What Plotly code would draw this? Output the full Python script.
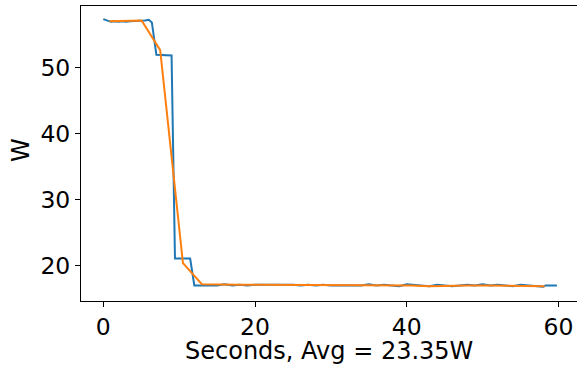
import plotly.graph_objects as go

# Blue: raw power samples (seconds, watts)
blue_t = [0.0, 0.5, 1.0, 1.5, 2.0, 2.5, 3.0, 3.5, 4.0, 4.5, 5.0, 5.5, 6.0, 6.4,
          7.0, 7.5, 8.0, 8.5, 9.0, 9.45, 10.0, 10.5, 11.0, 11.45, 12.0,
          13.0, 14.0, 15.0, 16.0, 17.0, 18.0, 19.0, 20.0, 21.0, 22.0, 23.0,
          24.0, 25.0, 26.0, 27.0, 28.0, 29.0, 30.0, 31.0, 32.0, 33.0, 34.0,
          35.0, 36.0, 37.0, 38.0, 39.0, 40.0, 41.0, 42.0, 43.0, 44.0, 45.0,
          46.0, 47.0, 48.0, 49.0, 50.0, 51.0, 52.0, 53.0, 54.0, 55.0, 56.0,
          57.0, 58.0, 58.3, 59.8]
blue_w = [57.4, 57.2, 57.0, 57.1, 57.0, 57.1, 57.0, 57.1, 57.1, 57.1, 57.2, 57.2, 57.3, 56.9,
          52.0, 52.0, 52.0, 51.9, 51.9, 21.1, 21.1, 21.1, 21.1, 21.1, 17.0,
          17.0, 17.1, 17.0, 17.2, 17.0, 17.1, 17.0, 17.1, 17.1, 17.2, 17.1,
          17.2, 17.1, 17.0, 17.1, 17.0, 17.1, 17.0, 17.0, 17.1, 17.0, 17.0,
          17.2, 17.0, 17.1, 17.0, 16.9, 17.2, 17.1, 17.0, 16.9, 17.1, 17.0,
          16.9, 17.0, 17.1, 17.0, 17.2, 17.0, 17.1, 17.0, 16.9, 17.1, 17.0,
          17.0, 16.8, 17.0, 17.0]

# Orange: smoothed power
orange_t = [0.8, 2.9, 5.05, 7.5, 10.5, 13.0, 15.5, 18.0, 20.5, 23.0, 25.5, 28.0,
            30.5, 33.0, 35.5, 38.0, 40.5, 43.0, 45.5, 48.0, 50.5, 53.0, 55.5, 58.2]
orange_w = [57.1, 57.1, 57.2, 52.7, 20.4, 17.2, 17.1, 17.1, 17.1, 17.1, 17.1, 17.0,
            17.0, 17.0, 17.0, 17.0, 17.0, 16.9, 17.0, 17.0, 17.0, 17.0, 17.0, 16.9]

x_ticks = [0, 20, 40, 60]
y_ticks = [20, 30, 40, 50]
avg_w = 23.35
x_title = f"Seconds, Avg = {avg_w:.2f}W"
y_title = "W"

FONT = "DejaVu Sans"

fig = go.Figure()
fig.add_trace(go.Scatter(x=blue_t, y=blue_w, mode="lines",
                         line=dict(color="#1f77b4", width=2)))
fig.add_trace(go.Scatter(x=orange_t, y=orange_w, mode="lines",
                         line=dict(color="#ff7f0e", width=2)))

fig.update_layout(
    width=577, height=365,
    margin=dict(l=81, r=0, t=6, b=64),
    paper_bgcolor="white", plot_bgcolor="white",
    showlegend=False,
    font=dict(family=FONT, size=23, color="black"),
)
fig.update_xaxes(
    range=[-2.94, 62.45], tickvals=x_ticks, ticktext=[str(v) for v in x_ticks],
    showgrid=False, zeroline=False, showline=True, linecolor="black", linewidth=1,
    mirror=True, ticks="outside", ticklen=5, tickwidth=1, tickcolor="black",
    tickfont=dict(family=FONT, size=23.5), automargin=False,
)
fig.update_yaxes(
    range=[14.65, 59.4], tickvals=y_ticks, ticktext=[str(v) for v in y_ticks],
    showgrid=False, zeroline=False, showline=True, linecolor="black", linewidth=1,
    mirror=False, ticks="outside", ticklen=5, tickwidth=1, tickcolor="black",
    tickfont=dict(family=FONT, size=23.5), automargin=False,
)

# axis titles as annotations (pixel-placed like the reference)
PLOT_TOP, PLOT_BOTTOM, PLOT_LEFT, PLOT_W = 6.0, 301.0, 81.0, 496.0
PLOT_H = PLOT_BOTTOM - PLOT_TOP
fig.add_annotation(text=x_title, xref="paper", yref="paper",
                   x=(329 - PLOT_LEFT) / PLOT_W, y=(PLOT_BOTTOM - 351) / PLOT_H,
                   xanchor="center", yanchor="middle", showarrow=False,
                   font=dict(family=FONT, size=24, color="black"))
fig.add_annotation(text=y_title, xref="paper", yref="paper",
                   x=-(PLOT_LEFT - 21) / PLOT_W, y=(PLOT_BOTTOM - 150) / PLOT_H,
                   xanchor="center", yanchor="middle", textangle=-90, showarrow=False,
                   font=dict(family=FONT, size=24, color="black"))

fig.write_html("out.html")
